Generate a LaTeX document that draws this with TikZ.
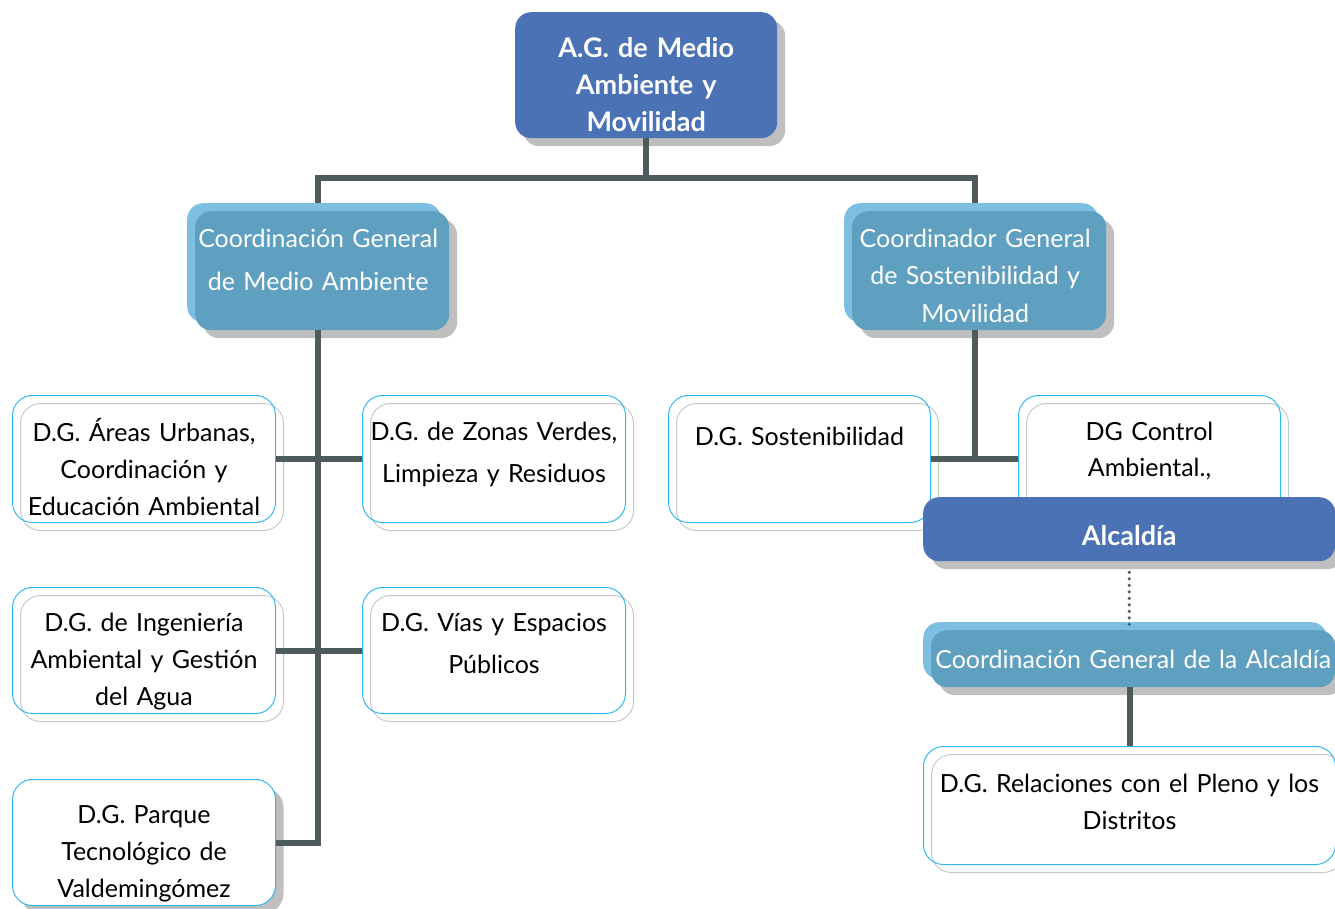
\documentclass[tikz,border=0pt]{standalone}
\usepackage{fontspec}
\setmainfont{Lato}
\usetikzlibrary{shadows}

\definecolor{agblue}{HTML}{4A72B5}
\definecolor{coordfront}{HTML}{5FA0C1}
\definecolor{coordback}{HTML}{7DBFE0}
\definecolor{shade}{HTML}{BFBFBF}
\definecolor{linkgray}{HTML}{4D5B5C}
\definecolor{dgcyan}{HTML}{2EB8EE}
\definecolor{dggray}{HTML}{C8C8C8}

\newcommand{\fs}[2]{\fontsize{#1}{#2}\selectfont}

\tikzset{
    boxsize/.style n args={3}{text width=#1pt, text height=#2pt, text depth=#3pt},
    headbox/.style={fill=agblue, rounded corners=16pt, text=white, align=center, inner sep=0pt,
        anchor=north west, font=\bfseries\fs{27}{37},
        drop shadow={fill=shade, opacity=1, shadow xshift=8pt, shadow yshift=-8pt}},
    coordbox/.style={fill=coordfront, rounded corners=16pt, text=white, align=center, inner sep=0pt,
        anchor=north west, font=\fs{25}{37.5},
        general shadow={fill=coordback, shadow xshift=-8pt, shadow yshift=8pt},
        drop shadow={fill=shade, opacity=1, shadow xshift=8pt, shadow yshift=-8pt}},
    % text centred on the two layers, not on the front one
    midtext/.style={execute at begin node={\leftskip=0pt plus 1fil\rightskip=8pt plus 1fil}},
    dgbox/.style={draw=dgcyan, line width=1pt, rounded corners=20pt, align=center, inner sep=0pt,
        anchor=north west, font=\fs{25}{37},
        general shadow={draw=dggray, line width=1pt, shadow xshift=8pt, shadow yshift=-8pt}},
    dgshadow/.style={draw=dgcyan, fill=white, line width=1pt, rounded corners=20pt, align=center,
        inner sep=0pt, anchor=north west, font=\fs{25}{37},
        drop shadow={fill=shade, opacity=1, shadow xshift=8pt, shadow yshift=-8pt}},
    link/.style={draw=linkgray, line width=6pt},
    dotlink/.style={draw=linkgray, line width=3.5pt, line cap=round, dash pattern=on 0pt off 6.5pt},
}

\begin{document}
\begin{tikzpicture}[x=1pt,y=-1pt]
    \useasboundingbox (0,0) rectangle (1335,908);

    % area de gobierno
    \node [headbox, boxsize={262}{45}{81}] (ag) at (515,12) {A.G. de Medio\\Ambiente y\\Movilidad};

    % coordinaciones generales
    \node [coordbox, midtext, boxsize={254}{36}{83}, font=\fs{25}{43}] (cma) at (195,211) {Coordinación General\\de Medio Ambiente};
    \node [coordbox, midtext, boxsize={254}{36}{83}] (csm) at (852,211) {Coordinador General\\de Sostenibilidad y\\Movilidad};

    % direcciones generales, medio ambiente
    \node [dgbox, boxsize={263}{46}{81}] (areas) at (12,395) {D.G. Áreas Urbanas,\\Coordinación y\\Educación Ambiental};
    \node [dgbox, boxsize={263}{45}{82}, font=\fs{25}{42}] (zonas) at (362,395) {D.G. de Zonas Verdes,\\Limpieza y Residuos};
    \node [dgbox, boxsize={263}{44}{82}] (ingen) at (12,587) {D.G. de Ingeniería\\Ambiental y Gestión\\del Agua};
    \node [dgbox, boxsize={263}{44}{82}, font=\fs{25}{42}] (vias) at (362,587) {D.G. Vías y Espacios\\Públicos};
    \node [dgshadow, boxsize={263}{44}{82}] (parque) at (12,779) {D.G. Parque\\Tecnológico de\\Valdemingómez};

    % direcciones generales, sostenibilidad
    \node [dgbox, boxsize={262}{50}{77}] (sost) at (668,395) {D.G. Sostenibilidad};
    \node [dgbox, boxsize={262}{45}{82}, font=\fs{25}{36}] (ctrl) at (1018,395) {DG Control\\Ambiental.,};

    % alcaldia
    \node [headbox, boxsize={412}{48}{16}] (alc) at (923,497) {Alcaldía};
    \node [coordbox, boxsize={404}{38}{19}] (cga) at (931,630) {Coordinación General de la Alcaldía};
    \node [dgbox, boxsize={412}{46}{72}] (rel) at (923,746) {D.G. Relaciones con el Pleno y los\\Distritos};

    % conectores
    \draw [link] (ag.south) -- ++(0,40) coordinate (bus);
    \draw [link] ([xshift=-4pt,yshift=8pt]cma.north) |- (bus) -| ([xshift=-4pt,yshift=8pt]csm.north);
    \draw [link] ([xshift=-4pt]cma.south) |- (parque.east);
    \draw [link] (areas.east) -- (zonas.west);
    \draw [link] (ingen.east) -- (vias.west);
    \draw [link] (sost.east) -- (ctrl.west);
    \draw [link] ([xshift=-4pt]csm.south) -- ([xshift=-4pt]csm.south |- sost.east);
    \draw [dotlink] ([yshift=-11pt]alc.south) -- (alc.south |- cga.north);
    \draw [link] (rel.north) -- (rel.north |- cga.south);
\end{tikzpicture}
\end{document}
